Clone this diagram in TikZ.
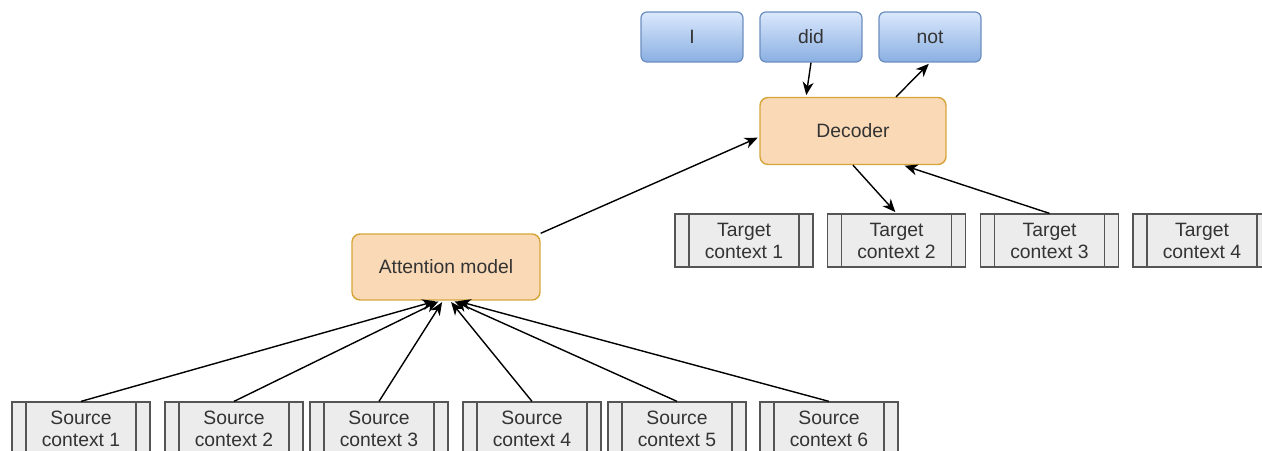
\documentclass[tikz,border=0pt]{standalone}
\usepackage{fontspec}
\setmainfont{Liberation Sans}
\usetikzlibrary{calc,arrows.meta}

\definecolor{wordtop}{HTML}{DAE8FC}
\definecolor{wordbot}{HTML}{8AAFE2}
\definecolor{wordline}{HTML}{6C8EBF}
\definecolor{unitfill}{HTML}{FAD9B6}
\definecolor{unitline}{HTML}{D6A53A}
\definecolor{ctxfill}{HTML}{ECECEC}
\definecolor{ctxline}{HTML}{555555}
\definecolor{txt}{HTML}{333333}

\tikzset{
  word/.style={draw=wordline, top color=wordtop, bottom color=wordbot, rounded corners=0.12cm,
    minimum width=2.04cm, minimum height=1cm, text=txt, line width=0.7pt},
  unit/.style={draw=unitline, fill=unitfill, rounded corners=0.16cm, line width=0.8pt,
    minimum height=1.34cm, text=txt},
  ctx/.style={draw=ctxline, fill=ctxfill, minimum width=2.76cm, minimum height=1.06cm,
    align=center, text=txt, inner sep=0pt, line width=0.7pt,
    path picture={
      \draw[ctxline, line width=0.7pt] ([xshift=0.28cm]path picture bounding box.north west)
        -- ([xshift=0.28cm]path picture bounding box.south west);
      \draw[ctxline, line width=0.7pt] ([xshift=-0.28cm]path picture bounding box.north east)
        -- ([xshift=-0.28cm]path picture bounding box.south east);
    }},
  arr/.style={-{Stealth[length=2.6mm,width=2.2mm,inset=0.8mm]}, line width=0.8pt, shorten >=1pt}
}

\begin{document}
\begin{tikzpicture}[x=0.02cm, y=0.02cm, font=\fontsize{11}{12.5}\selectfont]
    \useasboundingbox (0,0) rectangle (1262,450);
    % output words
    \node[word] (wI) at (692,413) {I};
    \node[word] (wdid) at (811,413) {did};
    \node[word] (wnot) at (930,413) {not};
    % decoder and attention
    \node[unit, minimum width=3.72cm] (dec) at (853,319) {Decoder};
    \node[unit, minimum width=3.76cm, minimum height=1.32cm] (att) at (446,183) {Attention model};
    % target contexts
    \node[ctx] (t1) at (744,209.5) {Target\\context 1};
    \node[ctx] (t2) at (896.5,209.5) {Target\\context 2};
    \node[ctx] (t3) at (1049.5,209.5) {Target\\context 3};
    \node[ctx] (t4) at (1202,209.5) {Target\\context 4};
    % source contexts
    \node[ctx] (s1) at (81,21.5) {Source\\context 1};
    \node[ctx] (s2) at (234,21.5) {Source\\context 2};
    \node[ctx] (s3) at (379,21.5) {Source\\context 3};
    \node[ctx] (s4) at (532,21.5) {Source\\context 4};
    \node[ctx] (s5) at (677,21.5) {Source\\context 5};
    \node[ctx] (s6) at (829,21.5) {Source\\context 6};

    \draw[arr] (s1.north) -- ($(att.south)+(-9,0)$);
    \draw[arr] (s2.north) -- ($(att.south)+(-6,0)$);
    \draw[arr] (s3.north) -- ($(att.south)+(-3,0)$);
    \draw[arr] (s4.north) -- ($(att.south)+(4,0)$);
    \draw[arr] (s5.north) -- ($(att.south)+(7,0)$);
    \draw[arr] (s6.north) -- ($(att.south)+(10,0)$);
    \draw[arr] (att.north east) -- ($(dec.west)+(0,-6)$);
    \draw[arr] (dec.south) -- (t2.north);
    \draw[arr] (t3.north) -- ($(dec.south)+(50,0)$);
    \draw[arr] (wdid.south) -- ($(dec.north)+(-47,0)$);
    \draw[arr] ($(dec.north)+(43,0)$) -- (wnot.south);
  \end{tikzpicture}
\end{document}
